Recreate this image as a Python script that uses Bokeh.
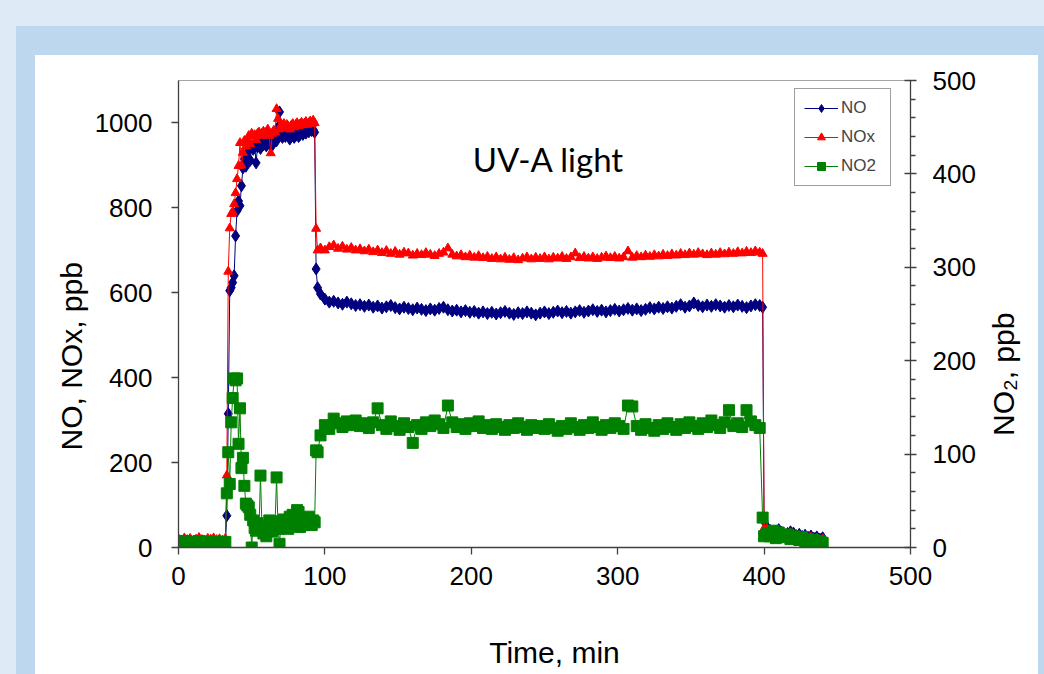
from bokeh.plotting import figure
from bokeh.models import Range1d, LinearAxis, FixedTicker, Label, Legend, LegendItem, Title
from bokeh.layouts import column, row
from bokeh.core.properties import value
from bokeh.embed import file_html
from bokeh.resources import INLINE

# ---------------- data (time in min, NO/NOx on left axis, NO2 on right axis) -------------
t_start = [0, 2, 4, 6, 8, 10, 12, 14, 16, 18, 20, 22, 24, 26, 28, 30, 32]
no_start = [10, 8, 12, 9, 11, 7, 10, 13, 9, 8, 11, 10, 12, 9, 10, 8, 11]
nox_start = [20, 17, 22, 18, 21, 16, 19, 23, 18, 17, 21, 19, 22, 18, 20, 17, 21]
no2_start = [6, 4, 7, 5, 6, 3, 5, 7, 4, 5, 6, 4, 6, 5, 4, 5, 6]

t_rise = [33, 34, 35, 36, 37, 38, 39, 40, 41, 42, 43, 44, 45, 46, 47, 48, 49, 50, 51, 52,
          53, 54, 55, 56, 57, 58, 59, 60, 61, 62, 63, 64, 65, 66, 67, 68, 69, 70, 71, 72,
          73, 74, 75, 76, 77, 78, 79, 80, 81, 82, 83, 84, 85, 86, 87, 88, 89, 90, 91, 92,
          93, 94, 95]
no_rise = [75, 315, 605, 612, 624, 640, 734, 793, 816, 805, 852, 894, 915, 898, 930, 941, 912, 945, 938, 950,
           906, 944, 952, 940, 951, 948, 955, 946, 958, 951, 960, 947, 955, 962, 958, 990, 1026, 972, 966, 975,
           968, 973, 970, 962, 968, 974, 966, 970, 975, 968, 972, 978, 973, 980, 976, 983, 979, 986, 982, 984,
           978, 656, 612]
nox_rise = [170, 650, 752, 786, 790, 809, 835, 868, 899, 953, 900, 930, 958, 945, 962, 970, 950, 975, 968, 972,
            960, 975, 978, 970, 975, 980, 972, 978, 985, 970, 929, 975, 982, 978, 1033, 1010, 985, 995, 988, 998,
            990, 996, 992, 985, 994, 998, 990, 996, 1000, 993, 997, 1001, 995, 999, 1003, 996, 1000, 1004, 998, 1006,
            1000, 751, 700]
no2_rise = [58, 102, 68, 134, 160, 181, 179, 181, 111, 149, 85, 96, 66, 47, 45, 43, 35, 0, 29, 21,
            18, 26, 20, 77, 22, 15, 18, 12, 20, 29, 24, 17, 22, 28, 75, 20, 4, 26, 22, 30,
            24, 29, 20, 33, 27, 35, 31, 25, 40, 38, 22, 27, 31, 24, 29, 27, 33, 28, 24, 29,
            27, 104, 102]

t_light = [97, 100, 103, 106, 109, 112, 115, 118, 121, 124,
           127, 130, 133, 136, 139, 142, 145, 148, 151, 154,
           157, 160, 163, 166, 169, 172, 175, 178, 181, 184,
           187, 190, 193, 196, 199, 202, 205, 208, 211, 214,
           217, 220, 223, 226, 229, 232, 235, 238, 241, 244,
           247, 250, 253, 256, 259, 262, 265, 268, 271, 274,
           277, 280, 283, 286, 289, 292, 295, 298, 301, 304,
           307, 310, 313, 316, 319, 322, 325, 328, 331, 334,
           337, 340, 343, 346, 349, 352, 355, 358, 361, 364,
           367, 370, 373, 376, 379, 382, 385, 388, 391, 394,
           397]
no_light = [597, 585, 578, 580, 576, 573, 578, 574, 570, 572,
            568, 571, 566, 569, 564, 567, 570, 565, 562, 566,
            563, 560, 564, 561, 558, 562, 559, 563, 566, 560,
            557, 559, 555, 558, 554, 556, 552, 555, 551, 554,
            550, 553, 556, 552, 549, 553, 551, 555, 552, 548,
            552, 555, 551, 554, 557, 553, 556, 552, 555, 558,
            554, 557, 560, 556, 559, 555, 558, 561, 557, 560,
            563, 559, 562, 558, 561, 565, 562, 566, 563, 567,
            564, 568, 572, 566, 569, 576, 570, 567, 571, 568,
            572, 569, 566, 570, 567, 571, 568, 565, 569, 572,
            570]
nox_light = [705, 700, 708, 712, 704, 709, 702, 706, 700, 703,
             698, 702, 696, 700, 694, 699, 692, 697, 690, 695,
             693, 688, 692, 689, 694, 690, 687, 692, 695, 705,
             690, 686, 689, 684, 688, 683, 687, 682, 685, 680,
             684, 679, 683, 678, 682, 677, 681, 684, 679, 683,
             680, 684, 679, 683, 681, 685, 680, 684, 693, 682,
             685, 681, 684, 680, 683, 686, 682, 685, 681, 684,
             698, 683, 687, 684, 688, 685, 689, 686, 690, 687,
             691, 688, 692, 689, 693, 690, 694, 691, 689, 693,
             690, 694, 691, 695, 692, 696, 693, 697, 694, 698,
             695]
no2_light = [120, 131, 127, 138, 133, 129, 135, 131, 136, 130,
             133, 128, 134, 149, 131, 127, 135, 130, 126, 133,
             129, 112, 131, 127, 134, 130, 136, 132, 128, 152,
             134, 129, 132, 127, 133, 130, 135, 128, 131, 127,
             132, 129, 126, 131, 128, 133, 129, 126, 131, 128,
             130, 127, 132, 128, 125, 130, 127, 133, 129, 126,
             131, 128, 134, 129, 126, 131, 128, 133, 130, 127,
             152, 151, 130, 126, 132, 128, 125, 131, 127, 133,
             129, 126, 132, 128, 134, 130, 127, 133, 129, 136,
             131, 128, 134, 147, 130, 133, 129, 147, 135, 131,
             128]

t_end = [399, 400, 402, 404, 406, 408, 410, 412, 414, 416, 418, 420, 422, 424, 426, 428, 430, 432, 434, 436, 438, 440]
no_end = [566, 62, 48, 40, 35, 38, 42, 36, 30, 33, 37, 34, 28, 31, 26, 29, 24, 27, 22, 25, 20, 23]
nox_end = [692, 45, 44, 36, 32, 35, 39, 33, 27, 30, 34, 31, 25, 28, 23, 26, 21, 24, 19, 22, 17, 20]
no2_end = [32, 12, 15, 12, 18, 10, 16, 13, 11, 14, 9, 12, 10, 8, 11, 7, 9, 6, 8, 5, 7, 5]

time = t_start + t_rise + t_light + t_end
no = no_start + no_rise + no_light + no_end
nox = nox_start + nox_rise + nox_light + nox_end
no2 = no2_start + no2_rise + no2_light + no2_end

x_ticks = [0, 100, 200, 300, 400, 500]
left_ticks = [0, 200, 400, 600, 800, 1000]
right_ticks = [0, 100, 200, 300, 400, 500]
right_minor = [20, 40, 60, 80, 120, 140, 160, 180, 220, 240, 260, 280,
               320, 340, 360, 380, 420, 440, 460, 480]

C_NO = "#000080"
C_NOX = "#ff0000"
C_NO2 = "#008000"
AX = "#404040"
FONT = "Liberation Sans"

plot = figure(width=947, height=550, x_range=Range1d(0, 500), y_range=Range1d(0, 1100),
              output_backend="svg", toolbar_location=None,
              min_border_left=143, min_border_right=72, min_border_top=25, min_border_bottom=58,
              background_fill_color="white", border_fill_color="white")
plot.outline_line_color = "#a6a6a6"
plot.outline_line_width = 1
plot.xgrid.visible = False
plot.ygrid.visible = False
plot.extra_y_ranges = {"no2": Range1d(0, 500)}

xa = plot.xaxis[0]
xa.ticker = FixedTicker(ticks=x_ticks, minor_ticks=[])
ya = plot.yaxis[0]
ya.ticker = FixedTicker(ticks=left_ticks, minor_ticks=[])
ra = LinearAxis(y_range_name="no2", ticker=FixedTicker(ticks=right_ticks, minor_ticks=right_minor))
plot.add_layout(ra, "right")

for ax in (xa, ya, ra):
    ax.axis_line_color = AX
    ax.axis_line_width = 1.3
    ax.major_tick_line_color = AX
    ax.major_tick_line_width = 1.3
    ax.major_tick_in = 0
    ax.major_tick_out = 7
    ax.minor_tick_line_color = None
    ax.major_label_text_font = FONT
    ax.major_label_text_font_size = "26px"
    ax.major_label_text_color = "black"

xa.major_label_standoff = 12
ya.major_label_standoff = 19
ra.major_tick_in = 6
ra.major_tick_out = 6
ra.minor_tick_line_color = AX
ra.minor_tick_line_width = 1.3
ra.minor_tick_in = 0
ra.minor_tick_out = 5
ra.major_label_standoff = 16

# left axis title, placed a little below the frame centre like the original
plot.add_layout(Title(text="NO, NOx, ppb", align="left", offset=97, standoff=8,
                      text_font=FONT, text_font_size="30px", text_font_style="normal",
                      text_color="black"), "left")

# series
l1 = plot.line(time, no, line_color=C_NO, line_width=1)
s1 = plot.scatter(time, no, marker="diamond", size=12, fill_color=C_NO, line_color=C_NO)
l2 = plot.line(time, nox, line_color=C_NOX, line_width=1)
s2 = plot.scatter(time, nox, marker="triangle", size=9, fill_color=C_NOX, line_color=C_NOX)
l3 = plot.line(time, no2, line_color=C_NO2, line_width=1, y_range_name="no2")
s3 = plot.scatter(time, no2, marker="square", size=11, fill_color=C_NO2, line_color=C_NO2, y_range_name="no2")

legend = Legend(items=[LegendItem(label="NO", renderers=[l1, s1]),
                       LegendItem(label="NOx", renderers=[l2, s2]),
                       LegendItem(label="NO2", renderers=[l3, s3])],
                location=(616, 361), orientation="vertical",
                padding=9, spacing=9, margin=0,
                glyph_width=34, glyph_height=20, label_height=20, label_width=40, label_standoff=3,
                label_text_font=FONT, label_text_font_size="17px",
                border_line_color=AX, border_line_width=1,
                background_fill_color="white", background_fill_alpha=1)
plot.add_layout(legend)

plot.add_layout(Label(x=201, y=915, text="UV-A light", text_font="Lato", text_font_size="33px",
                      text_color="black", text_baseline="alphabetic"))


def strip(w, h):
    f = figure(width=w, height=h, x_range=Range1d(0, w), y_range=Range1d(0, h),
               output_backend="svg", toolbar_location=None, min_border=0,
               background_fill_color="white", border_fill_color="white")
    f.outline_line_color = None
    f.axis.visible = False
    f.grid.visible = False
    return f


# strip right of the chart: secondary-axis title, reading bottom to top
side = strip(56, 550)
side.text(x=[21], y=[204], text=["NO\u2082, ppb"], angle=1.5707963,
          text_font=value(FONT), text_font_size="30px", text_color="black",
          text_align="center", text_baseline="middle")

# strip under the chart: x-axis title
bottom = strip(1003, 69)
bottom.text(x=[519], y=[22], text=["Time, min"],
            text_font=value(FONT), text_font_size="30px", text_color="black",
            text_align="center", text_baseline="middle")

panel = column(row(plot, side), bottom, styles={"background-color": "white"})
inner = column(panel, styles={"background-color": "#bdd7ee", "padding": "29px 6px 0px 19px"})
p = column(inner, styles={"background-color": "#deebf7", "padding": "26px 0px 0px 16px"})

open("out.html", "w").write(file_html(p, INLINE))
